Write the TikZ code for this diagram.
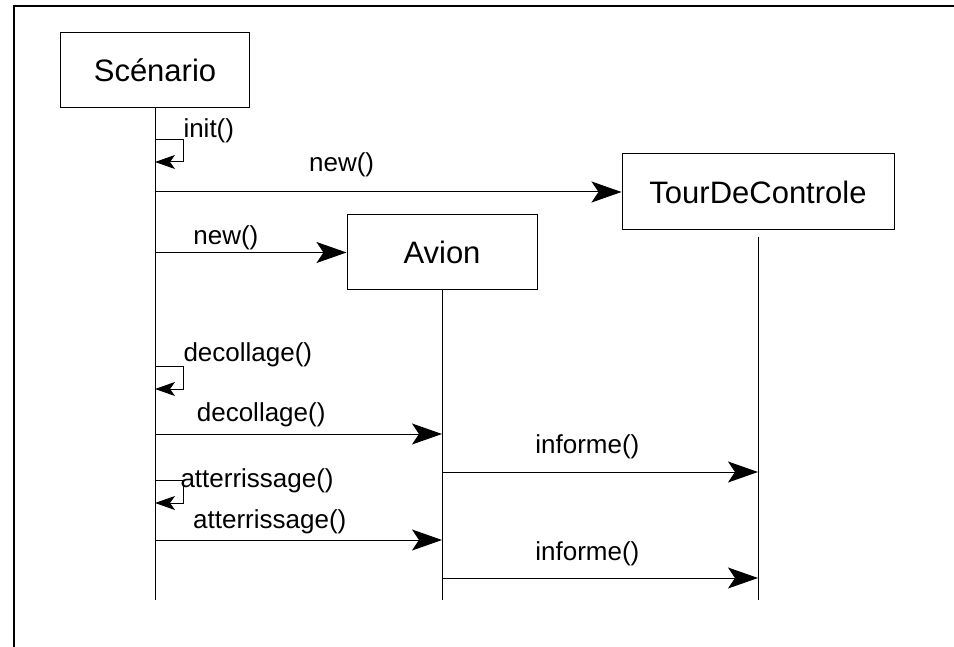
\documentclass[tikz,border=0pt]{standalone}
\usepackage{fontspec}
\setmainfont{Liberation Sans}
\usetikzlibrary{arrows.meta}

\begin{document}
\begin{tikzpicture}[x=1pt,y=-1pt,line width=1pt,>={Stealth[length=30pt,width=21pt,inset=7pt]}]
    \tikzstyle{obj}=[draw, rectangle, minimum height=75pt, inner sep=0pt, font=\fontsize{31}{36}\selectfont]
    \tikzstyle{self}=[-{Stealth[length=20pt,width=14pt,inset=5pt]}]
    \tikzstyle{lbl}=[anchor=base, inner sep=0pt, font=\fontsize{26}{30}\selectfont]

    \useasboundingbox (0,0) rectangle (954,647);
    \draw[line width=1.2pt] (14,647) -- (14,6) -- (954,6);

    \node[obj, minimum width=189pt] (sc) at (155,70.5) {Scénario};
    \node[obj, minimum width=190pt] (av) at (442,252.5) {Avion};
    \node[obj, minimum width=272pt, minimum height=76pt] (tc) at (758,192) {TourDeControle};

    % lignes de vie
    \coordinate (scEnd) at (155,600);
    \coordinate (avEnd) at (442,600);
    \coordinate (tcTop) at (758,237);
    \coordinate (tcEnd) at (758,600);
    \draw (sc.south) -- (scEnd);
    \draw (av.south) -- (avEnd);
    \draw (tcTop) -- (tcEnd);

    % points des messages
    \coordinate (i1) at (155,140);  \coordinate (i2) at (155,162);
    \coordinate (d1) at (155,366);  \coordinate (d2) at (155,389);
    \coordinate (r1) at (155,480);  \coordinate (r2) at (155,503);
    \coordinate (s1) at (155,434);  \coordinate (a1) at (442,434);
    \coordinate (a2) at (442,472);  \coordinate (t2) at (758,472);
    \coordinate (s3) at (155,540);  \coordinate (a3) at (442,540);
    \coordinate (a4) at (442,578);  \coordinate (t4) at (758,578);

    \draw[self] (i1) -- ++(28,0) node[lbl, anchor=base west, yshift=2pt] (lInit) {init()} |- (i2);
    \draw[self] (d1) -- ++(28,0) node[lbl, anchor=base west, yshift=4pt] (lDecS) {decollage()} |- (d2);
    \draw[self] (r1) -- ++(28,0) node[lbl, anchor=base west, xshift=-3pt, yshift=-7pt] (lAttS) {atterrissage()} |- (r2);

    \path[->] (sc.south |- tc.west) edge node[lbl, pos=.40, yshift=20pt] (lNewT) {new()} (tc.west);
    \path[->] (sc.south |- av.west) edge node[lbl, pos=.37, yshift=8pt] (lNewA) {new()} (av.west);
    \path[->] (s1) edge node[lbl, pos=.37, yshift=13pt] (lDec) {decollage()} (a1);
    \path[->] (a2) edge node[lbl, pos=.46, yshift=19pt] (lInf1) {informe()} (t2);
    \path[->] (s3) edge node[lbl, pos=.40, yshift=12pt] (lAtt) {atterrissage()} (a3);
    \path[->] (a4) edge node[lbl, pos=.46, yshift=18pt] (lInf2) {informe()} (t4);
\end{tikzpicture}
\end{document}
